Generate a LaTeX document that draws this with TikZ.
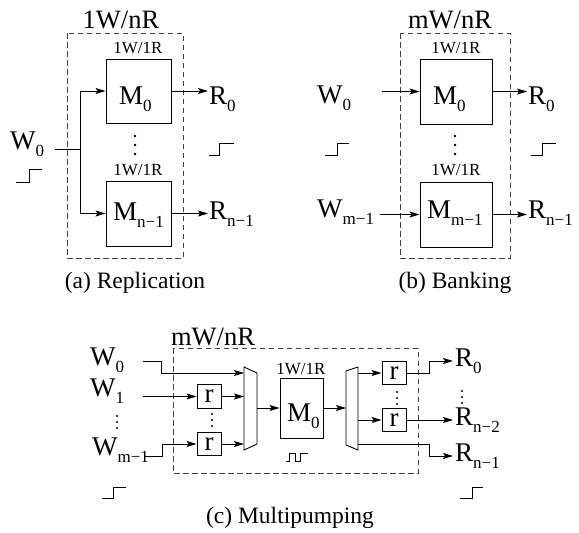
\documentclass[tikz,border=0pt]{standalone}
\usepackage{fontspec}
\setmainfont{Liberation Serif}
\usetikzlibrary{arrows.meta}
\newcommand{\sbl}[2]{#1\raisebox{-7.5pt}{\fontsize{17}{17}\selectfont #2}}
\begin{document}
\begin{tikzpicture}[x=1pt,y=-1pt,
  ln/.style={line width=0.9pt},
  arr/.style={line width=0.9pt, -{Stealth[length=10pt,width=6pt,inset=2pt]}},
  dbox/.style={draw=black!75, dash pattern=on 5.5pt off 3.5pt, line width=0.8pt},
  mem/.style={draw, line width=0.9pt, inner sep=0, anchor=center},
  lab/.style={font=\fontsize{27}{30}\selectfont, inner sep=0, anchor=base west},
  ttl/.style={font=\fontsize{26.5}{30}\selectfont, inner sep=0},
  sml/.style={font=\fontsize{17}{20}\selectfont, inner sep=0},
  capt/.style={font=\fontsize{23.5}{26}\selectfont, inner sep=0},
  rbox/.style={draw, line width=0.9pt, inner sep=0, minimum width=24pt, minimum height=23.5pt, font=\fontsize{27}{30}\selectfont},
  stp/.style={line width=0.9pt}]
\useasboundingbox (0,0) rectangle (579,533);

% ================= (a) Replication =================
\node[ttl] (ta) at (121,20) {1W/nR};
\draw[dbox] (67,33) rectangle (183,258);
\node[mem, minimum width=65pt, minimum height=64pt] (Ma0) at (138.5,91) {};
\node[mem, minimum width=65pt, minimum height=65pt] (Ma1) at (138.5,213.5) {};
\node[sml] (sa0) at (138,48) {1W/1R};
\node[sml] (sa1) at (138,170.5) {1W/1R};
\node[lab] (tMa0) at (119,104) {\sbl{M}{0}};
\node[lab] (tMa1) at (113,220) {\sbl{M}{n−1}};
\fill (135,136) circle (1.3) (135,145) circle (1.3) (135,154) circle (1.3);
\node[lab] (Wa) at (10,149) {\sbl{W}{0}};
\coordinate (wa) at (55,149);
\coordinate (ja) at (80,149);
\draw[ln] (wa) -- (ja);
\draw[arr] (ja) |- (Ma0.west);
\draw[arr] (ja) |- (Ma1.west);
\node[lab] (Ra0) at (209,104) {\sbl{R}{0}};
\node[lab] (Ra1) at (209,219) {\sbl{R}{n−1}};
\draw[arr] (Ma0.east) -- ([xshift=-1pt]Ma0.east -| Ra0.west);
\draw[arr] (Ma1.east) -- ([xshift=-1pt]Ma1.east -| Ra1.west);
\draw[stp] (16,182) -- (29,182) -- (29,169) -- (42,169);
\draw[stp] (209,155) -- (219,155) -- (219,143) -- (234,143);
\node[capt] (ca) at (135,283) {(a) Replication};

% ================= (b) Banking =================
\node[ttl] (tb) at (450,20) {mW/nR};
\draw[dbox] (400,33) rectangle (510,258);
\node[mem, minimum width=72pt, minimum height=65pt] (Mb0) at (456,91.5) {};
\node[mem, minimum width=72pt, minimum height=65pt] (Mb1) at (456,214.5) {};
\node[sml] (sb0) at (456,48) {1W/1R};
\node[sml] (sb1) at (456,170.5) {1W/1R};
\node[lab] (tMb0) at (433,104) {\sbl{M}{0}};
\node[lab] (tMb1) at (427,218) {\sbl{M}{m−1}};
\fill (455,136) circle (1.3) (455,145) circle (1.3) (455,154) circle (1.3);
\node[lab] (Wb0) at (317,103) {\sbl{W}{0}};
\node[lab] (Wb1) at (317,217) {\sbl{W}{m−1}};
\coordinate (wb0) at (382,91.5);
\coordinate (wb1) at (380,214.5);
\draw[arr] (wb0) -- (wb0 -| Mb0.west);
\draw[arr] (wb1) -- (wb1 -| Mb1.west);
\node[lab] (Rb0) at (528,104) {\sbl{R}{0}};
\node[lab] (Rb1) at (528,218) {\sbl{R}{n−1}};
\draw[arr] (Mb0.east) -- ([xshift=-1pt]Mb0.east -| Rb0.west);
\draw[arr] (Mb1.east) -- ([xshift=-1pt]Mb1.east -| Rb1.west);
\draw[stp] (325,155) -- (337,155) -- (337,143) -- (349,143);
\draw[stp] (531,155) -- (542,155) -- (542,143) -- (556,143);
\node[capt] (cb) at (455,283) {(b) Banking};

% ================= (c) Multipumping =================
\node[ttl] (tc) at (213,336.5) {mW/nR};
\draw[dbox] (173,348) rectangle (418,473);
\node[lab] (Wc0) at (90,365) {\sbl{W}{0}};
\node[lab] (Wc1) at (90,396) {\sbl{W}{1}};
\node[lab] (Wc2) at (92,455) {\sbl{W}{m−1}};
\fill (117,416) circle (1.2) (117,422) circle (1.2) (117,428) circle (1.2);
\node[rbox] (r1) at (209,396.5) {r};
\node[rbox] (r2) at (209,444) {r};
\fill (212,414) circle (1.2) (212,420) circle (1.2) (212,426) circle (1.2);
% mux 1
\coordinate (m1a) at (244,367);
\coordinate (m1b) at (257,373);
\coordinate (m1c) at (257,444);
\coordinate (m1d) at (244,450);
\coordinate (m1i) at (244,373);
\draw[ln] (m1a) -- (m1b) -- (m1c) -- (m1d) -- cycle;
\coordinate (wc0) at (143,361);
\coordinate (wc1) at (143,396.5);
\coordinate (wc2) at (145,456);
\draw[arr] (wc0) -- (161,361) -- (161,373) -- (m1i);
\draw[arr] (wc1) -- (r1.west);
\draw[arr] (wc2) -- (162,456) -- (162,444) -- (r2.west);
\draw[arr] (r1.east) -- (r1.east -| m1a);
\draw[arr] (r2.east) -- (r2.east -| m1a);
% memory
\node[mem, minimum width=43pt, minimum height=60pt] (Mc) at (301.5,408) {};
\node[sml] (sc) at (301,369) {1W/1R};
\node[lab] (tMc) at (287,421) {\sbl{M}{0}};
\coordinate (m1o) at (257,408);
\draw[arr] (m1o) -- (Mc.west);
\draw[stp] (286,461) -- (289,461) -- (289,453) -- (295,453) -- (295,461) -- (300,461) -- (300,453) -- (308,453);
% mux 2
\coordinate (m2a) at (346,371);
\coordinate (m2b) at (358,367);
\coordinate (m2c) at (358,450);
\coordinate (m2d) at (346,445);
\draw[ln] (m2a) -- (m2b) -- (m2c) -- (m2d) -- cycle;
\draw[arr] (Mc.east) -- (Mc.east -| m2a);
\node[rbox] (r3) at (394,373) {r};
\node[rbox] (r4) at (394,420) {r};
\fill (397,392) circle (1.2) (397,398) circle (1.2) (397,404) circle (1.2);
\coordinate (m2o1) at (358,373);
\coordinate (m2o2) at (358,420);
\coordinate (m2o3) at (358,444);
\draw[arr] (m2o1) -- (r3.west);
\draw[arr] (m2o2) -- (r4.west);
\node[lab] (Rc0) at (455,366) {\sbl{R}{0}};
\node[lab] (Rc1) at (455,425) {\sbl{R}{n−2}};
\node[lab] (Rc2) at (455,461) {\sbl{R}{n−1}};
\fill (462,391) circle (1.2) (462,397) circle (1.2) (462,403) circle (1.2);
\coordinate (ro0) at (453,361);
\coordinate (ro1) at (453,420);
\coordinate (ro2) at (453,456);
\draw[arr] (r3.east) -- (429,373) -- (429,361) -- (ro0);
\draw[arr] (r4.east) -- (ro1);
\draw[arr] (m2o3) -- (429,444) -- (429,456) -- (ro2);
\draw[stp] (102,498) -- (113,498) -- (113,487) -- (126,487);
\draw[stp] (460,498) -- (472,498) -- (472,487) -- (483,487);
\node[capt] (cc) at (290,518) {(c) Multipumping};
\end{tikzpicture}
\end{document}
